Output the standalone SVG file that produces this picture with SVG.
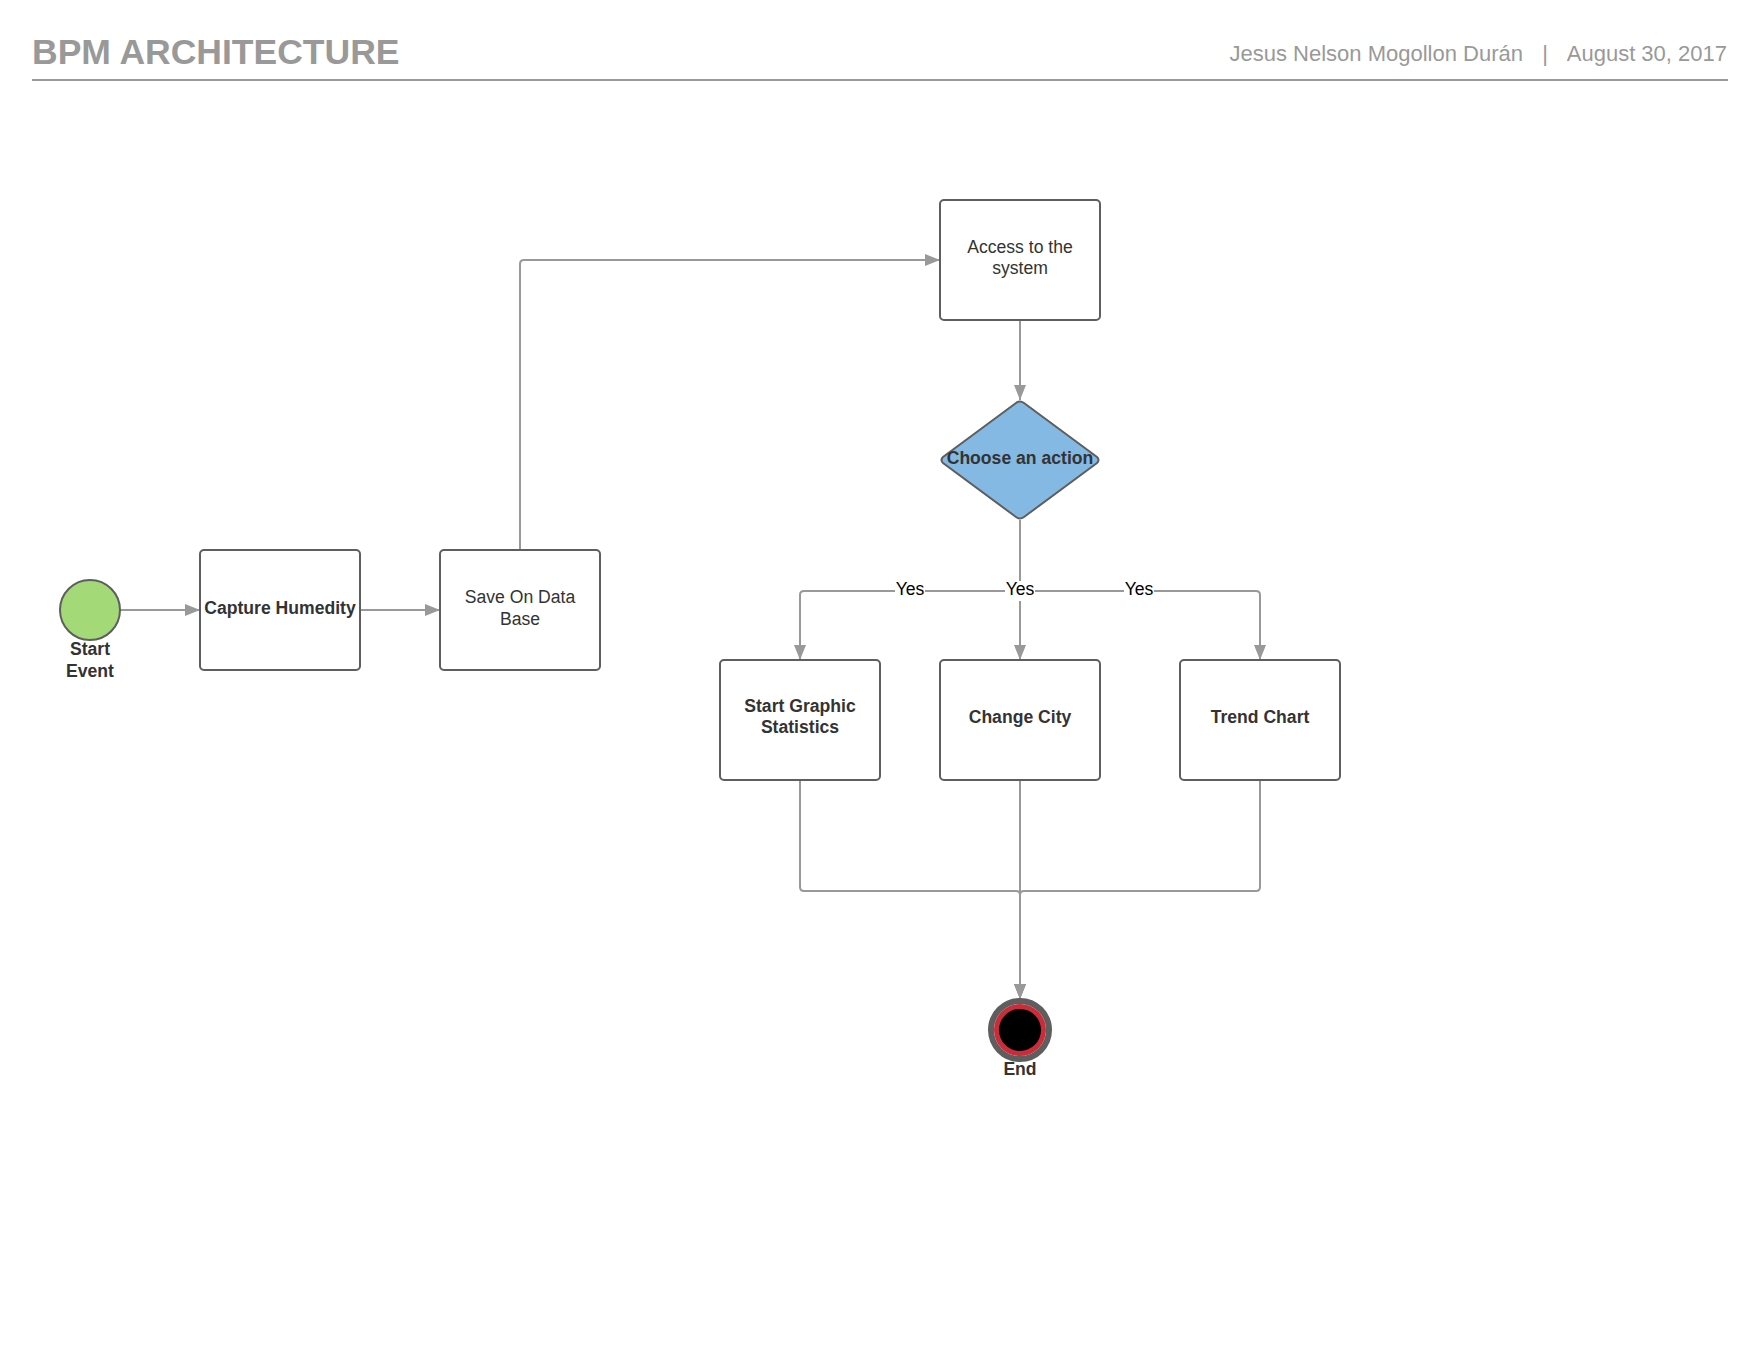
<svg xmlns="http://www.w3.org/2000/svg" width="1760" height="1360" viewBox="0 0 1760 1360">
<style>
text{font-family:"Liberation Sans",Arial,sans-serif;}
.box{fill:#fff;stroke:#5e5e5e;stroke-width:2;}
.lbl{font-size:17.6px;fill:#333;text-anchor:middle;}
.b{font-weight:bold;}
.con{fill:none;stroke:#999;stroke-width:2;}
.yes{font-size:17.6px;fill:#000;text-anchor:middle;}
.hdr{fill:#999;}
</style>
<defs>
<marker id="arr" markerUnits="userSpaceOnUse" markerWidth="16" markerHeight="14" refX="15" refY="6.5" orient="auto">
<path d="M0,0.5 L15,6.5 L0,12.5 z" fill="#999"/>
</marker>
</defs>
<rect width="1760" height="1360" fill="#fff"/>
<g id="header">
<text x="32" y="64" class="hdr b" style="font-size:35.5px">BPM ARCHITECTURE</text>
<text x="1523" y="61" class="hdr" style="font-size:22px" text-anchor="end">Jesus Nelson Mogollon Durán</text>
<text x="1545" y="61" class="hdr" style="font-size:22px" text-anchor="middle">|</text>
<text x="1727" y="61" class="hdr" style="font-size:22px" text-anchor="end">August 30, 2017</text>
<line x1="32" y1="80" x2="1728" y2="80" stroke="#999" stroke-width="2"/>
</g>
<g id="connectors">
<path class="con" d="M120 610 H200" marker-end="url(#arr)"/>
<path class="con" d="M360 610 H440" marker-end="url(#arr)"/>
<path class="con" d="M520 550 V264 Q520 260 524 260 H940" marker-end="url(#arr)"/>
<path class="con" d="M1020 320 V400" marker-end="url(#arr)"/>
<path class="con" d="M1020 520 V591 H804 Q800 591 800 595 V660" marker-end="url(#arr)"/>
<path class="con" d="M1020 520 V660" marker-end="url(#arr)"/>
<path class="con" d="M1020 520 V591 H1256 Q1260 591 1260 595 V660" marker-end="url(#arr)"/>
<path class="con" d="M800 780 V887 Q800 891 804 891 H1016 Q1020 891 1020 895 V999" marker-end="url(#arr)"/>
<path class="con" d="M1020 780 V999" marker-end="url(#arr)"/>
<path class="con" d="M1260 780 V887 Q1260 891 1256 891 H1024 Q1020 891 1020 895 V999" marker-end="url(#arr)"/>
<rect x="895" y="581" width="30" height="20" fill="#fff"/>
<text x="910" y="595" class="yes">Yes</text>
<rect x="1005" y="581" width="30" height="20" fill="#fff"/>
<text x="1020" y="595" class="yes">Yes</text>
<rect x="1124" y="581" width="30" height="20" fill="#fff"/>
<text x="1139" y="595" class="yes">Yes</text>
</g>
<g id="start-event">
<circle cx="90" cy="610" r="30" fill="#a3d977" stroke="#5e5e5e" stroke-width="2"/>
<text x="90" y="655" class="lbl b">Start</text>
<text x="90" y="677" class="lbl b">Event</text>
</g>
<g id="capture-humedity">
<rect x="200" y="550" width="160" height="120" rx="4" class="box"/>
<text x="280" y="614" class="lbl b">Capture Humedity</text>
</g>
<g id="save-database">
<rect x="440" y="550" width="160" height="120" rx="4" class="box"/>
<text x="520" y="603" class="lbl">Save On Data</text>
<text x="520" y="625" class="lbl">Base</text>
</g>
<g id="access-system">
<rect x="940" y="200" width="160" height="120" rx="4" class="box"/>
<text x="1020" y="253" class="lbl">Access to the</text>
<text x="1020" y="274" class="lbl">system</text>
</g>
<g id="choose-action">
<path d="M1016 403 Q1020 400 1024 403 L1097 457 Q1100 460 1097 463 L1024 517 Q1020 520 1016 517 L943 463 Q940 460 943 457 Z" fill="#83b9e3" stroke="#5e5e5e" stroke-width="2"/>
<text x="1020" y="464" class="lbl b">Choose an action</text>
</g>
<g id="start-graphic">
<rect x="720" y="660" width="160" height="120" rx="4" class="box"/>
<text x="800" y="712" class="lbl b">Start Graphic</text>
<text x="800" y="733" class="lbl b">Statistics</text>
</g>
<g id="change-city">
<rect x="940" y="660" width="160" height="120" rx="4" class="box"/>
<text x="1020" y="723" class="lbl b">Change City</text>
</g>
<g id="trend-chart">
<rect x="1180" y="660" width="160" height="120" rx="4" class="box"/>
<text x="1260" y="723" class="lbl b">Trend Chart</text>
</g>
<g id="end-event">
<circle cx="1020" cy="1030" r="29" fill="none" stroke="#5e5e5e" stroke-width="6"/>
<circle cx="1020" cy="1030" r="23.5" fill="#000" stroke="#c92d39" stroke-width="5"/>
<text x="1020" y="1075" class="lbl b">End</text>
</g>
</svg>
